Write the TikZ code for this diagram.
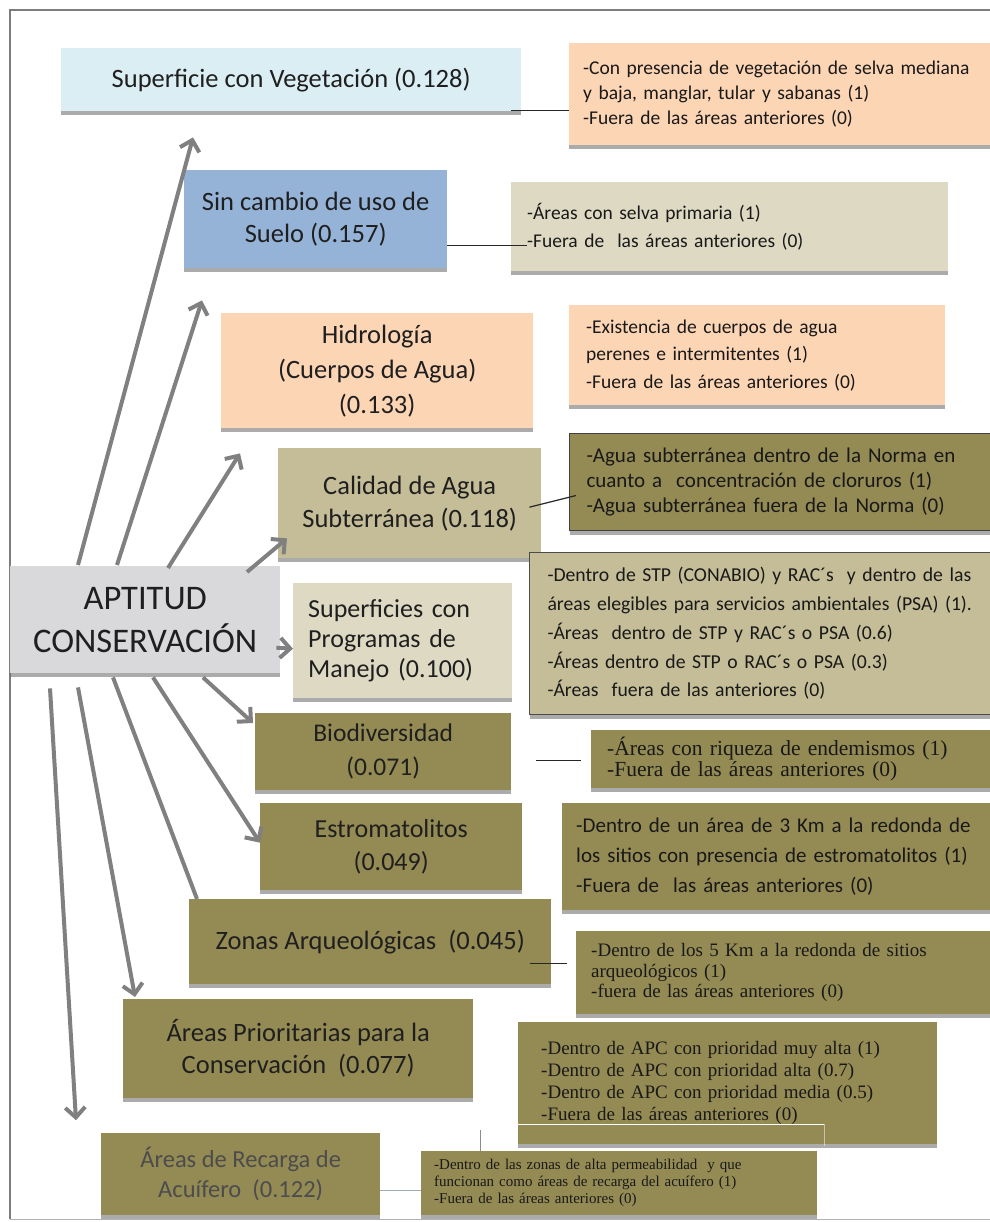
\documentclass[tikz,border=0pt]{standalone}
\usepackage{fontspec}
\setmainfont{Carlito}
\newfontfamily\timesfont{Liberation Serif}
\usepackage{tikz}
\usetikzlibrary{arrows.meta, calc, shadows}
\definecolor{vegblue}{RGB}{219,238,244}
\definecolor{sueloblue}{RGB}{149,179,215}
\definecolor{peach}{RGB}{252,213,181}
\definecolor{tanlight}{RGB}{221,217,195}
\definecolor{tanmid}{RGB}{196,189,151}
\definecolor{olive}{RGB}{148,138,84}
\definecolor{aptgray}{RGB}{217,217,220}
\definecolor{arrowgray}{RGB}{128,128,128}
\definecolor{framegray}{RGB}{125,125,125}
\definecolor{linkblue}{RGB}{160,170,185}
\tikzset{
    factorbox/.style={rectangle, fill=#1, anchor=north west, align=center, inner sep=0pt, text=black!88, drop shadow={opacity=0.55, shadow xshift=0pt, shadow yshift=-4pt, fill=black!60}},
    critbox/.style={rectangle, fill=#1, anchor=north west, align=left, inner ysep=0pt, text=black!90, drop shadow={opacity=0.55, shadow xshift=0pt, shadow yshift=-4pt, fill=black!60}},
    aptarrow/.style={-{Straight Barb[length=10pt,width=20pt]}, arrowgray, line width=4pt},
    aptline/.style={arrowgray, line width=4pt},
    critline/.style={black!85, line width=1.2pt}
}

\begin{document}
\begin{tikzpicture}[x=1pt, y=-1pt]
\useasboundingbox (0,0) rectangle (989,1222);

% frame
\draw[framegray, line width=1.5pt] (10,1219) -- (10,10) -- (995,10);
\draw[black!30, line width=1pt] (10,1219) -- (995,1219);

% factors
\node[factorbox=vegblue, minimum width=460pt, minimum height=63pt, font=\fontsize{26.5}{30}\selectfont] (veg) at (61,48) {Superficie con Vegetación (0.128)};
\node[factorbox=sueloblue, minimum width=263pt, minimum height=98pt, font=\fontsize{26.5}{32}\selectfont] (suelo) at (184,170) {Sin cambio de uso de\\Suelo (0.157)};
\node[factorbox=peach, minimum width=312pt, minimum height=115pt, font=\fontsize{26.5}{35}\selectfont] (hidro) at (221,313) {Hidrología\\(Cuerpos de Agua)\\(0.133)};
\node[factorbox=tanmid, minimum width=263pt, minimum height=110pt, font=\fontsize{26.5}{33}\selectfont] (calidad) at (278,448) {Calidad de Agua\\Subterránea (0.118)};
\node[factorbox=tanlight, align=left, inner xsep=15pt, text width=189pt, minimum height=115pt, font=\fontsize{26}{30}\selectfont] (programas) at (293,583) {Superficies con\\Programas de\\Manejo (0.100)};
\node[factorbox=aptgray, minimum width=270pt, minimum height=107pt, font=\fontsize{34.5}{43}\selectfont] (aptitud) at (10,566) {APTITUD\\CONSERVACIÓN};
\node[factorbox=olive, minimum width=256pt, minimum height=77pt, font=\fontsize{25.5}{34}\selectfont] (biodiv) at (255,713) {Biodiversidad\\(0.071)};
\node[factorbox=olive, minimum width=262pt, minimum height=87pt, font=\fontsize{26}{33}\selectfont] (estrom) at (260,803) {Estromatolitos\\(0.049)};
\node[factorbox=olive, minimum width=362pt, minimum height=85pt, font=\fontsize{26.5}{30}\selectfont] (zonas) at (189,899) {Zonas Arqueológicas\ \ (0.045)};
\node[factorbox=olive, minimum width=350pt, minimum height=99pt, font=\fontsize{26.5}{32}\selectfont] (apc) at (123,999) {Áreas Prioritarias para la\\Conservación\ \ (0.077)};
\node[factorbox=olive, minimum width=279pt, minimum height=82pt, text=black!70, font=\fontsize{24.5}{30}\selectfont] (recarga) at (101,1133) {Áreas de Recarga de\\Acuífero\ \ (0.122)};

% criteria
\node[critbox=peach, inner xsep=14pt, text width=397pt, minimum height=102pt, font=\fontsize{19.5}{25}\selectfont] (vegcrit) at (569,43) {-Con presencia de vegetación de selva mediana\\y baja, manglar, tular y sabanas (1)\\-Fuera de las áreas anteriores (0)};
\node[critbox=tanlight, inner xsep=16pt, text width=405pt, minimum height=89pt, font=\fontsize{19.5}{28}\selectfont] (suelocrit) at (511,182) {-Áreas con selva primaria (1)\\-Fuera de\ \ las áreas anteriores (0)};
\node[critbox=peach, inner xsep=17pt, text width=342pt, minimum height=100pt, font=\fontsize{19.5}{27.5}\selectfont] (hidrocrit) at (569,305) {-Existencia de cuerpos de agua\\perenes e intermitentes (1)\\-Fuera de las áreas anteriores (0)};
\node[critbox=olive, draw=black!75, line width=1pt, inner xsep=17pt, text width=391pt, minimum height=97pt, font=\fontsize{21}{25}\selectfont] (calidadcrit) at (569,433) {-Agua subterránea dentro de la Norma en\\cuanto a\ \ concentración de cloruros (1)\\-Agua subterránea fuera de la Norma (0)};
\node[critbox=tanmid, draw=black!70, line width=1pt, inner xsep=18pt, text width=428pt, minimum height=162pt, font=\fontsize{19.7}{28.7}\selectfont] (programascrit) at (529,552) {-Dentro de STP (CONABIO) y RAC´s\ \ y dentro de las\\áreas elegibles para servicios ambientales (PSA) (1).\\-Áreas\ \ dentro de STP y RAC´s o PSA (0.6)\\-Áreas dentro de STP o RAC´s o PSA (0.3)\\-Áreas\ \ fuera de las anteriores (0)};
\node[critbox=olive, inner xsep=16pt, text width=370pt, minimum height=58pt, font=\timesfont\fontsize{21.5}{21}\selectfont] (biocrit) at (591,730) {-Áreas con riqueza de endemismos (1)\\-Fuera de las áreas anteriores (0)};
\node[critbox=olive, inner xsep=14pt, text width=402pt, minimum height=107pt, font=\fontsize{21}{30}\selectfont] (estromcrit) at (562,803) {-Dentro de un área de 3 Km a la redonda de\\los sitios con presencia de estromatolitos (1)\\-Fuera de\ \ las áreas anteriores (0)};
\node[critbox=olive, inner xsep=15pt, text width=386pt, minimum height=83pt, font=\timesfont\fontsize{19}{20.5}\selectfont] (zonascrit) at (576,931) {-Dentro de los 5 Km a la redonda de sitios\\arqueológicos (1)\\-fuera de las áreas anteriores (0)};
\node[critbox=olive, inner xsep=23pt, text width=373pt, minimum height=122pt, font=\timesfont\fontsize{19}{22}\selectfont] (apccrit) at (518,1022) {-Dentro de APC con prioridad muy alta (1)\\-Dentro de APC con prioridad alta (0.7)\\-Dentro de APC con prioridad media (0.5)\\-Fuera de las áreas anteriores (0)};
\node[critbox=olive, inner xsep=13pt, text width=370pt, minimum height=64pt, font=\timesfont\fontsize{15}{17}\selectfont] (recargacrit) at (421,1151) {-Dentro de las zonas de alta permeabilidad\ \ y que\\funcionan como áreas de recarga del acuífero (1)\\-Fuera de las áreas anteriores (0)};

% links to criteria
\draw[critline] ($(veg.south east)+(-10,-1)$) -- ($(vegcrit.west |- veg.south east)+(0,-1)$);
\draw[critline] ($(suelo.east)+(0,26)$) -- ($(suelocrit.west |- suelo.east)+(16,26)$);
\draw[critline] ($(calidad.east)+(-12,4)$) -- ($(calidadcrit.west)+(7,13.5)$);
\draw[critline] ($(biodiv.east)+(25,8.5)$) -- ($(biocrit.west)+(-10,1)$);
\draw[critline] ($(zonas.east)+(-21,21.5)$) -- ($(zonascrit.west)+(-9,-9.5)$);
\draw[black!45, line width=1pt] ($(recargacrit.north west)+(59,0)$) -- ++(0,-21);
\draw[linkblue, line width=1pt] ($(recarga.east)+(0,16)$) -- ($(recargacrit.west)+(0,7)$);
\draw[white, line width=1.5pt] ($(apccrit.south west)+(0,-20)$) -- ++(306,0);
\draw[white, opacity=0.5, line width=1pt] ($(apccrit.south west)+(306,-20)$) -- ++(0,22);

% arrows from the root
\draw[aptarrow] ($(aptitud.north west)+(68,-1)$) -- ($(veg.south west)+(132,26)$);
\draw[aptarrow] ($(aptitud.north west)+(107,-1)$) -- ($(suelo.south west)+(18,32)$);
\draw[aptarrow] ($(aptitud.north west)+(158,2)$) -- ($(hidro.south west)+(19,25)$);
\draw[aptarrow] ($(aptitud.north west)+(237,6)$) -- ($(calidad.south west)+(9,-20)$);
\draw[aptarrow] ($(aptitud.east)+(-4,28)$) -- ($(programas.west)+(0,8)$);
\draw[aptarrow] ($(aptitud.south west)+(193,4)$) -- ($(biodiv.north west)+(-2,10)$);
\draw[aptarrow] ($(aptitud.south west)+(143,4)$) -- ($(estrom.west)+(0,-4)$);
\draw[aptline] ($(aptitud.south west)+(103,4)$) -- ($(zonas.north west)+(8,0)$);
\draw[aptarrow] ($(aptitud.south west)+(68,14)$) -- ($(apc.north west)+(12,-2)$);
\draw[aptarrow] ($(aptitud.south west)+(40,15)$) -- ($(recarga.west)+(-25,-54)$);

\end{tikzpicture}
\end{document}
